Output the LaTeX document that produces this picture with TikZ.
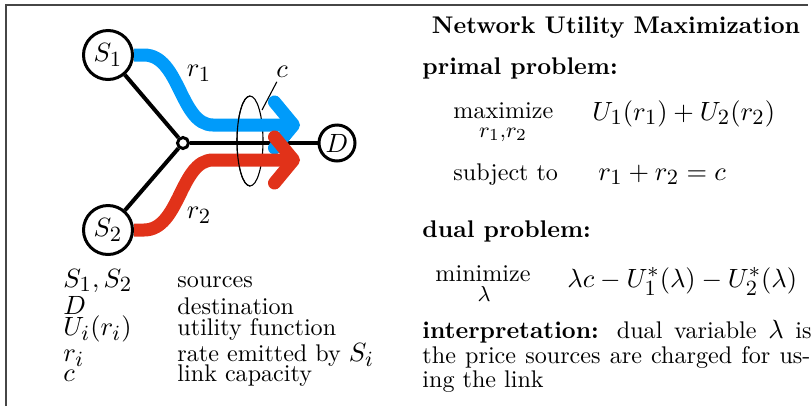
\documentclass[tikz,border=0pt]{standalone}
\usepackage{amsmath}
\DeclareMathSizes{10}{11}{9}{7}
\usetikzlibrary{arrows.meta,backgrounds}
\definecolor{flowblue}{RGB}{0,155,250}
\definecolor{flowred}{RGB}{225,50,25}
\definecolor{framegray}{RGB}{70,70,70}
\def\pxu{0.415}
\begin{document}
\begin{tikzpicture}[x=\pxu pt,y=-\pxu pt,
  vertex/.style={circle,draw,line width=3*\pxu pt,fill=white,inner sep=0pt,minimum size=49*\pxu pt},
  dest/.style={circle,draw,line width=3*\pxu pt,fill=white,inner sep=0pt,minimum size=36*\pxu pt},
  junction/.style={circle,draw,line width=3*\pxu pt,fill=white,inner sep=0pt,minimum size=11*\pxu pt},
  link/.style={line width=4*\pxu pt},
  flow/.style={line width=13*\pxu pt,-{Straight Barb[length=19*\pxu pt,width=46*\pxu pt,round]}},
  thinline/.style={line width=1.1*\pxu pt},
  txt/.style={inner sep=0pt,anchor=base west},
  ctxt/.style={inner sep=0pt,anchor=base},
]
\useasboundingbox (0,0) rectangle (811,406);
\draw[framegray,line width=2*\pxu pt] (6,406) -- (6,5) -- (808,5);

% graph
\node[vertex] (s1) at (108,55) {$S_1$};
\node[vertex] (s2) at (108,230) {$S_2$};
\node[junction] (j) at (183,143) {};
\node[dest] (d) at (337,143) {$D$};
\coordinate (t1) at (300,125);
\coordinate (t2) at (300,160);
\begin{scope}[on background layer]
  \draw[link] (s1) -- (j);
  \draw[link] (s2) -- (j);
  \draw[link] (j) -- (d);
  \draw[thinline] (250,141) ellipse [x radius=13, y radius=45];
  \draw[flow,flowblue] (s1.east) -- ++(10,0) .. controls (180,55) and (180,125) .. (213,125) -- (t1);
  \draw[flow,flowred] (s2.east) -- ++(10,0) .. controls (180,230) and (180,160) .. (213,160) -- (t2);
\end{scope}
\draw[thinline] (250,96) arc[start angle=270, end angle=90, x radius=13, y radius=45];
\coordinate (cA) at (262,110);
\node[inner sep=1.5pt] (clabel) at (282,72) {$c$};
\draw[thinline] (cA) -- (clabel);
\node (r1) at (199,73) {$r_1$};
\node (r2) at (199,215) {$r_2$};

% legend
\node[txt] (l1a) at (63,287) {$S_1, S_2$};
\node[txt] (l1b) at (177,287) {sources};
\node[txt] (l2a) at (63,314) {$D$};
\node[txt] (l2b) at (177,314) {destination};
\node[txt] (l3a) at (63,335) {$U_i(r_i)$};
\node[txt] (l3b) at (177,335) {utility function};
\node[txt] (l4a) at (63,361) {$r_i$};
\node[txt] (l4b) at (177,361) {rate emitted by $S_i$};
\node[txt] (l5a) at (63,381) {$c$};
\node[txt] (l5b) at (177,381) {link capacity};

% right column
\node[ctxt] (title) at (616,33) {\textbf{Network Utility Maximization}};
\node[txt] (primal) at (422,74) {\textbf{primal problem:}};
\node[txt] (max) at (453,118) {maximize};
\node[ctxt] (maxsub) at (503,137) {$\scriptstyle r_1,r_2$};
\node[txt] (pobj) at (592,120) {$U_1(r_1)+U_2(r_2)$};
\node[txt] (st) at (453,180) {subject to};
\node[txt] (pcon) at (598,180) {$r_1+r_2=c$};
\node[txt] (dual) at (422,237) {\textbf{dual problem:}};
\node[txt] (min) at (435,281) {minimize};
\node[ctxt] (minsub) at (484,301) {$\scriptstyle\lambda$};
\node[txt] (dobj) at (567,287) {$\lambda c - U_1^*(\lambda) - U_2^*(\lambda)$};
\node[txt] (i1) at (422,338) {\makebox[161.5pt][s]{\textbf{interpretation:} dual variable $\lambda$ is}};
\node[txt] (i2) at (422,363) {\makebox[161pt][s]{the price sources are charged for us-}};
\node[txt] (i3) at (422,387) {ing the link};
\end{tikzpicture}
\end{document}
